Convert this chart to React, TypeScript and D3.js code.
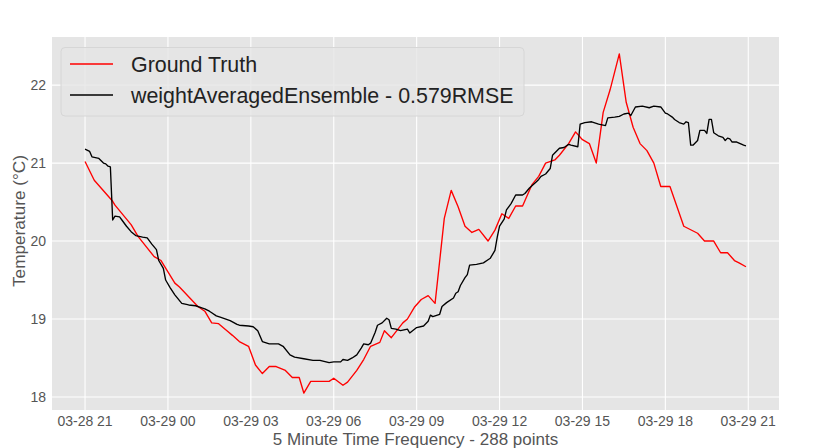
import * as d3 from 'd3';

// minutes since 03-28 21:00, temperature (°C)
const groundTruth: [number, number][] = [
  [0, 21.02], [20, 20.78], [60, 20.51], [65, 20.46], [100, 20.21], [115, 20.06],
  [150, 19.80], [165, 19.75], [195, 19.46], [205, 19.41], [245, 19.16], [260, 19.10],
  [275, 18.95], [290, 18.94], [310, 18.84], [320, 18.79], [335, 18.71], [355, 18.65],
  [370, 18.41], [385, 18.30], [400, 18.39], [415, 18.39], [435, 18.34], [450, 18.25],
  [465, 18.25], [475, 18.05], [490, 18.20], [530, 18.20], [540, 18.24], [560, 18.15],
  [570, 18.19], [590, 18.34], [605, 18.48], [620, 18.65], [640, 18.70], [650, 18.85],
  [665, 18.76], [690, 18.95], [700, 19.00], [715, 19.15], [730, 19.25], [745, 19.30],
  [760, 19.20], [780, 20.29], [795, 20.65], [810, 20.44], [825, 20.19], [840, 20.11],
  [855, 20.15], [875, 20.00], [890, 20.14], [905, 20.35], [920, 20.29], [935, 20.45],
  [950, 20.45], [970, 20.72], [985, 20.83], [1000, 21.00], [1020, 21.04], [1030, 21.10],
  [1050, 21.25], [1065, 21.40], [1080, 21.30], [1095, 21.25], [1110, 21.00], [1125, 21.65],
  [1140, 21.94], [1160, 22.40], [1175, 21.78], [1190, 21.46], [1205, 21.25], [1220, 21.16],
  [1235, 21.00], [1250, 20.70], [1270, 20.70], [1300, 20.19], [1330, 20.10], [1345, 20.00],
  [1365, 20.00], [1380, 19.85], [1395, 19.85], [1410, 19.75], [1420, 19.72], [1435, 19.67],
];

const ensemble: [number, number][] = [
  [0, 21.18], [10, 21.15], [15, 21.08], [30, 21.06], [40, 21.00], [45, 20.99], [50, 20.96],
  [55, 20.95], [60, 20.27], [65, 20.32], [75, 20.31], [80, 20.27], [90, 20.19], [100, 20.12],
  [110, 20.07], [125, 20.05], [135, 20.04], [145, 19.96], [155, 19.89], [160, 19.75],
  [170, 19.65], [175, 19.50], [185, 19.40], [195, 19.31], [210, 19.20], [225, 19.18],
  [240, 19.17], [255, 19.14], [260, 19.13], [270, 19.10], [275, 19.08], [285, 19.04],
  [295, 19.02], [315, 18.98], [330, 18.93], [335, 18.92], [355, 18.91], [365, 18.90],
  [375, 18.85], [385, 18.71], [400, 18.68], [420, 18.68], [430, 18.65], [445, 18.54],
  [455, 18.51], [475, 18.49], [495, 18.47], [510, 18.47], [530, 18.44], [540, 18.45],
  [555, 18.45], [560, 18.48], [570, 18.47], [580, 18.50], [590, 18.54], [600, 18.63],
  [605, 18.68], [615, 18.67], [620, 18.69], [625, 18.76], [630, 18.83], [635, 18.92],
  [645, 18.95], [655, 19.01], [660, 18.99], [665, 18.88], [675, 18.87], [685, 18.85],
  [700, 18.87], [705, 18.82], [720, 18.89], [735, 18.91], [745, 18.97], [750, 19.05],
  [755, 19.03], [770, 19.06], [775, 19.16], [785, 19.21], [800, 19.27], [805, 19.33],
  [810, 19.35], [815, 19.43], [825, 19.53], [830, 19.57], [835, 19.69], [850, 19.70],
  [865, 19.72], [875, 19.76], [880, 19.78], [890, 19.88], [895, 20.05], [900, 20.19],
  [910, 20.28], [915, 20.40], [925, 20.48], [935, 20.59], [950, 20.59], [955, 20.61],
  [965, 20.68], [980, 20.76], [985, 20.79], [990, 20.83], [1000, 20.86], [1010, 20.93],
  [1015, 21.10], [1030, 21.19], [1040, 21.20], [1050, 21.24], [1055, 21.23], [1070, 21.21],
  [1075, 21.50], [1085, 21.52], [1100, 21.53], [1115, 21.50], [1130, 21.48], [1135, 21.58],
  [1150, 21.59], [1160, 21.60], [1170, 21.63], [1180, 21.64], [1185, 21.61], [1195, 21.72],
  [1210, 21.73], [1225, 21.71], [1235, 21.73], [1250, 21.72], [1260, 21.64], [1265, 21.63],
  [1275, 21.59], [1280, 21.56], [1290, 21.52], [1300, 21.50], [1305, 21.53], [1310, 21.52],
  [1315, 21.23], [1320, 21.23], [1330, 21.29], [1335, 21.42], [1345, 21.42], [1350, 21.38],
  [1355, 21.56], [1360, 21.56], [1365, 21.39], [1375, 21.35], [1385, 21.33], [1390, 21.29],
  [1395, 21.32], [1400, 21.31], [1405, 21.27], [1415, 21.27], [1430, 21.23], [1435, 21.22],
];

const seriesNames = ['Ground Truth', 'weightAveragedEnsemble - 0.579RMSE'];
const seriesColors = ['red', 'black'];
const yTicks = [18, 19, 20, 21, 22];
const startTime = new Date(2021, 2, 28, 21, 0);

const W = 830;
const H = 448;
const margin = { top: 37, right: 51, bottom: 38, left: 52 };
const font = '"Liberation Sans", Arial, sans-serif';

const toDate = (m: number) => new Date(startTime.getTime() + m * 60000);

export default function App() {
  const all = [...groundTruth, ...ensemble];
  const tExt = d3.extent(all, d => d[0]) as [number, number];
  const vExt = d3.extent(all, d => d[1]) as [number, number];
  const tPad = (tExt[1] - tExt[0]) * 0.05;
  const vPad = (vExt[1] - vExt[0]) * 0.05;

  const x = d3.scaleTime()
    .domain([toDate(tExt[0] - tPad), toDate(tExt[1] + tPad)])
    .range([margin.left, W - margin.right]);
  const y = d3.scaleLinear()
    .domain([vExt[0] - vPad, vExt[1] + vPad])
    .range([H - margin.bottom, margin.top]);

  const xTicks = x.ticks(d3.timeHour.every(3)!);
  const fmt = d3.timeFormat('%m-%d %H');

  const line = d3.line<[number, number]>()
    .x(d => x(toDate(d[0])))
    .y(d => y(d[1]));

  const series = [groundTruth, ensemble];
  const plotW = W - margin.left - margin.right;
  const plotH = H - margin.top - margin.bottom;

  return (
    <svg width={W} height={H} style={{ position: 'absolute', left: 0, top: 0, fontFamily: font }}>
      <rect x={0} y={0} width={W} height={H} fill="white" />
      <rect x={margin.left} y={margin.top} width={plotW} height={plotH} fill="#E5E5E5" />
      {yTicks.map(t => (
        <line key={'gy' + t} x1={margin.left} x2={W - margin.right} y1={y(t)} y2={y(t)}
          stroke="white" strokeWidth={1.1} />
      ))}
      {xTicks.map((t, i) => (
        <line key={'gx' + i} x1={x(t)} x2={x(t)} y1={margin.top} y2={H - margin.bottom}
          stroke="white" strokeWidth={1.1} />
      ))}
      {series.map((s, i) => (
        <path key={'s' + i} d={line(s) || ''} fill="none" stroke={seriesColors[i]}
          strokeWidth={1.35} strokeLinejoin="round" />
      ))}
      {yTicks.map(t => (
        <text key={'ty' + t} x={margin.left - 6} y={y(t)} dy="0.35em" textAnchor="end"
          fontSize={14} fill="#555">{t}</text>
      ))}
      {xTicks.map((t, i) => (
        <text key={'tx' + i} x={x(t)} y={H - margin.bottom + 15.5} textAnchor="middle"
          fontSize={14} fill="#555">{fmt(t)}</text>
      ))}
      <text x={margin.left + plotW / 2} y={445} textAnchor="middle" fontSize={17} fill="#555">
        5 Minute Time Frequency - 288 points
      </text>
      <text transform={`translate(25,221) rotate(-90)`} textAnchor="middle"
        fontSize={17.2} fill="#555">Temperature (°C)</text>
      <g>
        <rect x={61} y={47.5} width={463} height={68.5} rx={4} fill="#E5E5E5" fillOpacity={0.8}
          stroke="#d6d6d6" strokeWidth={1} />
        {seriesNames.map((name, i) => (
          <g key={'lg' + i} transform={`translate(0,${64 + i * 31})`}>
            <line x1={70} x2={113} y1={0} y2={0} stroke={seriesColors[i]} strokeWidth={1.35} />
            <text x={131} y={0} dy="0.35em" fontSize={21.4} fill="#222">{name}</text>
          </g>
        ))}
      </g>
    </svg>
  );
}
